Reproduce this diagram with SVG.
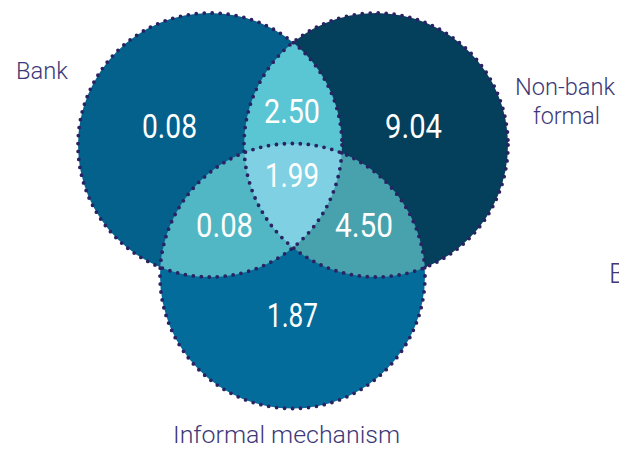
<svg xmlns="http://www.w3.org/2000/svg" width="619" height="450" viewBox="0 0 619 450">
<style>
.num{font-family:Roboto,"Liberation Sans",sans-serif;font-size:33px;fill:#ffffff;font-weight:400}
.lbl{font-family:Roboto,"Liberation Sans",sans-serif;font-size:24px;fill:#3d3877;font-weight:300}
.dot{fill:none;stroke:#2a2262;stroke-width:3.8;stroke-linecap:round;stroke-dasharray:0 8}
</style>
<defs>
<clipPath id="cBank"><circle cx="210" cy="145" r="132"/></clipPath>
<clipPath id="cNon"><circle cx="376" cy="145" r="132"/></clipPath>
</defs>
<rect width="619" height="450" fill="#ffffff"/>
<g id="bank"><circle cx="210" cy="145" r="132" fill="#04618c"/></g>
<g id="nonbank"><circle cx="376" cy="145" r="132" fill="#043f5c"/></g>
<g id="informal"><circle cx="292.5" cy="276" r="132.5" fill="#046c9b"/></g>
<g id="bank-nonbank" clip-path="url(#cBank)"><circle cx="376" cy="145" r="132" fill="#5ac5d3"/></g>
<g id="bank-informal" clip-path="url(#cBank)"><circle cx="292.5" cy="276" r="132.5" fill="#52b7c4"/></g>
<g id="nonbank-informal" clip-path="url(#cNon)"><circle cx="292.5" cy="276" r="132.5" fill="#47a2ad"/></g>
<g id="all-three" clip-path="url(#cBank)"><g clip-path="url(#cNon)"><circle cx="292.5" cy="276" r="132.5" fill="#7ed0e2"/></g></g>
<g id="outlines">
<circle class="dot" cx="210" cy="145" r="132"/>
<circle class="dot" cx="376" cy="145" r="132"/>
<circle class="dot" cx="292.5" cy="276" r="132.5"/>
</g>
<g id="values">
<text class="num" x="142" y="138" textLength="55" lengthAdjust="spacingAndGlyphs">0.08</text>
<text class="num" x="264" y="123" textLength="56" lengthAdjust="spacingAndGlyphs">2.50</text>
<text class="num" x="385" y="138" textLength="57" lengthAdjust="spacingAndGlyphs">9.04</text>
<text class="num" x="265" y="187" textLength="54" lengthAdjust="spacingAndGlyphs">1.99</text>
<text class="num" x="196" y="237" textLength="57" lengthAdjust="spacingAndGlyphs">0.08</text>
<text class="num" x="335" y="237" textLength="58" lengthAdjust="spacingAndGlyphs">4.50</text>
<text class="num" x="267" y="327" textLength="51" lengthAdjust="spacingAndGlyphs">1.87</text>
</g>
<g id="labels">
<text class="lbl" x="16" y="79" textLength="52" lengthAdjust="spacingAndGlyphs">Bank</text>
<text class="lbl" x="515" y="95" textLength="100" lengthAdjust="spacingAndGlyphs">Non-bank</text>
<text class="lbl" x="533" y="124" textLength="67" lengthAdjust="spacingAndGlyphs">formal</text>
<text class="lbl" x="173" y="443" textLength="227" lengthAdjust="spacingAndGlyphs">Informal mechanism</text>
<text class="lbl" x="609" y="283" style="font-size:27px">B</text>
</g>
</svg>
